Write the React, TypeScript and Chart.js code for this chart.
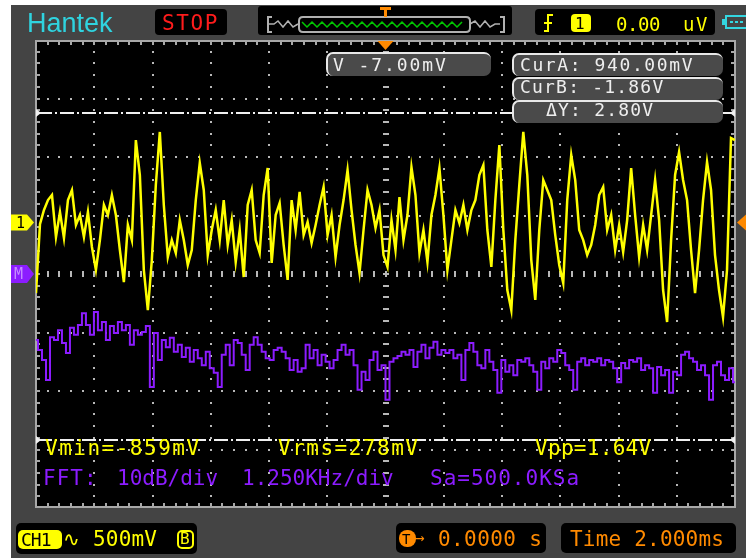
import React, { useEffect, useRef } from "react";
import { Chart, registerables } from "chart.js";
Chart.register(...registerables);

// ---- Data ----
// CH1 samples in mV, evenly spaced across the 24 ms window (2 ms/div, 12 div)
const CH1_MV = [
  -603, -13, 107, 192, 235, -124, 90, -132, 192, 278, -21, 64, -124, 90, -209, -406,
  -150, 150, 64, 235, 64, -235, -509, -21, -150, 705, 406, -406, -748, -321, 321, 774,
  150, -295, -150, -261, 21, -150, -363, -235, 192, 509, 278, -278, -64, 107, -150, 192,
  -192, 21, -338, -64, -466, 150, 278, -150, -261, 235, 466, -346, 64, 167, -192, -491,
  192, -64, 261, -107, 4, -175, -21, 150, 303, -107, 64, -295, -21, 192, 449, 107,
  -192, -432, -64, 278, 150, -47, 107, -278, -380, 21, -235, 218, -150, 64, 474, 235,
  -261, -64, -338, 64, 235, 466, 64, -406, -150, 107, -4, 150, -64, 107, 192, 406,
  491, -64, -380, 192, 662, -64, -577, -748, -150, 321, 774, 406, -321, -662, -64, 363,
  278, 192, -107, -363, -517, 192, 577, 363, -64, -150, -278, -192, -21, 235, 303, -64,
  64, -235, -21, -252, 21, 466, 64, -295, -21, -235, 64, 363, 21, -577, -850, -150,
  406, 603, 363, 192, -235, -603, -235, 192, 517, 278, -278, -577, -808, -406, 722, 705,
];
// FFT magnitude in dB, evenly spaced across 0..15 kHz (1.250 kHz/div)
const FFT_DB = [
  -11.3, -13.0, -14.7, -18.1, -10.8, -11.3, -9.6, -11.8, -13.5, -9.2, -10.4, -8.7, -6.7, -8.7, -10.4, -6.5,
  -9.6, -8.2, -11.3, -8.9, -10.1, -8.2, -9.6, -8.7, -12.1, -9.6, -10.4, -9.9, -8.9, -19.3, -10.1, -14.7,
  -11.3, -12.5, -10.9, -13.3, -12.1, -14.2, -12.6, -15.0, -13.0, -14.4, -15.6, -13.3, -16.1, -16.9, -19.3, -13.8,
  -12.1, -15.6, -11.3, -11.8, -13.8, -16.4, -12.1, -10.8, -12.1, -13.3, -14.4, -14.7, -13.0, -12.6, -13.3, -14.4,
  -16.4, -14.7, -16.7, -16.1, -12.1, -14.4, -13.0, -15.6, -13.8, -15.0, -16.1, -14.7, -13.0, -12.1, -13.8, -13.0,
  -15.6, -19.8, -16.7, -18.1, -14.7, -13.3, -16.4, -15.6, -21.5, -15.0, -14.4, -14.0, -13.3, -13.8, -13.0, -15.9,
  -13.3, -12.1, -14.4, -12.6, -11.6, -13.8, -13.0, -13.5, -13.0, -14.4, -13.8, -18.1, -13.0, -11.8, -13.3, -15.6,
  -16.1, -13.0, -15.0, -16.4, -20.3, -14.7, -16.7, -15.6, -17.3, -14.7, -15.0, -14.4, -15.6, -16.7, -19.8, -15.0,
  -16.1, -14.4, -15.0, -13.0, -13.5, -15.6, -16.4, -19.8, -15.0, -14.4, -15.6, -14.7, -15.0, -14.4, -15.6, -14.7,
  -15.0, -16.1, -18.5, -15.2, -16.1, -14.7, -15.0, -14.4, -16.4, -15.6, -16.1, -20.3, -15.9, -17.3, -16.4, -20.3,
  -16.7, -17.3, -13.8, -13.3, -14.4, -15.0, -16.4, -15.6, -17.3, -21.5, -15.6, -15.0, -17.3, -18.1, -16.1, -18.5,
];

const TIME_DIV_MS = 2;
const FFT_KHZ_DIV = 1.25;
const CH1_MV_DIV = 500;
const CH1_CENTER_MV = -440; // CH1 value on the centre graticule line
const FFT_DB_DIV = 10;
const CURSOR_A_MV = 940;
const CURSOR_B_MV = -1860;
const H_DIVS = 12;
const V_DIVS = 8;

const YELLOW = "#ffff00";
const PURPLE = "#8c1cff";
const ORANGE = "#ff8a00";
const GRAYBG = "#444444";

const MONO = "'DejaVu Sans Mono', monospace";

function T(props: {
  x: number; base: number; size: number; color: string; ls?: number; font?: string; children: React.ReactNode; asc?: number;
}) {
  const asc = props.asc ?? 0.846;
  return (
    <div
      style={{
        position: "absolute",
        left: props.x,
        top: props.base - asc * props.size,
        fontSize: props.size,
        lineHeight: props.size + "px",
        fontFamily: props.font ?? MONO,
        color: props.color,
        letterSpacing: (props.ls ?? 0) + "px",
        whiteSpace: "pre",
      }}
    >
      {props.children}
    </div>
  );
}

function Box(props: { x: number; y: number; w: number; h: number; bg: string; r?: number; style?: React.CSSProperties }) {
  return (
    <div
      style={{
        position: "absolute",
        left: props.x,
        top: props.y,
        width: props.w,
        height: props.h,
        background: props.bg,
        borderRadius: props.r ?? 4,
        boxSizing: "border-box",
        ...(props.style || {}),
      }}
    />
  );
}

function CurBox(props: { x: number; y: number; w: number; h: number }) {
  return (
    <div
      style={{
        position: "absolute",
        left: props.x,
        top: props.y,
        width: props.w,
        height: props.h,
        background: "#4a4a4a",
        borderTop: "2px solid #e8e8e8",
        borderLeft: "2px solid #e8e8e8",
        borderRadius: "7px 7px 7px 7px",
        boxSizing: "border-box",
      }}
    />
  );
}

const scopePlugin = {
  id: "scope",
  beforeDraw(chart: any) {
    const ctx = chart.ctx as CanvasRenderingContext2D;
    const a = chart.chartArea;
    ctx.save();
    ctx.fillStyle = "#ffffff";
    ctx.fillRect(0, 0, chart.width, chart.height);
    ctx.fillStyle = GRAYBG;
    ctx.fillRect(11, 5, chart.width - 11, chart.height - 6);
    ctx.fillStyle = "#000000";
    ctx.fillRect(a.left, a.top, a.right - a.left, a.bottom - a.top);

    const dx = (a.right - a.left) / H_DIVS;
    const dy = (a.bottom - a.top) / V_DIVS;
    const cx = a.left + dx * (H_DIVS / 2);
    const cy = a.top + dy * (V_DIVS / 2);
    ctx.fillStyle = "#b8b8b8";
    // dotted division lines
    for (let k = 1; k < H_DIVS; k++) {
      if (k === H_DIVS / 2) continue;
      const x = a.left + k * dx;
      for (let j = 1; j < V_DIVS * 5; j++) {
        const y = a.top + (j * dy) / 5;
        ctx.fillRect(Math.round(x) - 1, Math.round(y) - 1, 2, 2);
      }
    }
    for (let k = 1; k < V_DIVS; k++) {
      if (k === V_DIVS / 2) continue;
      const y = a.top + k * dy;
      for (let j = 1; j < H_DIVS * 5; j++) {
        const x = a.left + (j * dx) / 5;
        ctx.fillRect(Math.round(x) - 1, Math.round(y) - 1, 2, 2);
      }
    }
    // centre axes with ticks
    for (let j = 1; j < V_DIVS * 5; j++) {
      const y = a.top + (j * dy) / 5;
      ctx.fillRect(Math.round(cx) - 3, Math.round(y) - 1, 6, 2);
    }
    for (let j = 1; j < H_DIVS * 5; j++) {
      const x = a.left + (j * dx) / 5;
      ctx.fillRect(Math.round(x) - 1, Math.round(cy) - 3, 2, 6);
    }
    // border
    ctx.fillStyle = "#a8a8a8";
    ctx.fillRect(a.left - 1, a.top, a.right - a.left + 2, 2);
    ctx.fillRect(a.left - 1, a.bottom - 2, a.right - a.left + 2, 2);
    ctx.fillRect(a.left - 1, a.top, 2, a.bottom - a.top);
    ctx.fillRect(a.right - 1, a.top, 2, a.bottom - a.top);
    for (let j = 1; j < H_DIVS * 5; j++) {
      const x = Math.round(a.left + (j * dx) / 5) - 1;
      ctx.fillRect(x, a.top + 2, 2, 3);
      ctx.fillRect(x, a.bottom - 5, 2, 3);
    }
    for (let j = 1; j < V_DIVS * 5; j++) {
      const y = Math.round(a.top + (j * dy) / 5) - 1;
      ctx.fillRect(a.left + 1, y, 3, 2);
      ctx.fillRect(a.right - 4, y, 3, 2);
    }

    // ---- header: timebase indicator ----
    ctx.fillStyle = "#000";
    roundRect(ctx, 258, 6, 254, 29, 3);
    ctx.fill();
    ctx.strokeStyle = "#b0b0b0";
    ctx.lineWidth = 2;
    ctx.beginPath();
    ctx.moveTo(272, 17); ctx.lineTo(268, 17); ctx.lineTo(268, 32); ctx.lineTo(272, 32);
    ctx.moveTo(500, 17); ctx.lineTo(504, 17); ctx.lineTo(504, 32); ctx.lineTo(500, 32);
    ctx.stroke();
    ctx.lineWidth = 1.5;
    ctx.beginPath();
    ctx.moveTo(268, 24); ctx.lineTo(274, 24);
    ctx.lineTo(278, 21); ctx.lineTo(283, 27); ctx.lineTo(288, 21); ctx.lineTo(293, 27); ctx.lineTo(298, 24);
    ctx.moveTo(470, 24); ctx.lineTo(475, 21); ctx.lineTo(480, 27); ctx.lineTo(485, 21); ctx.lineTo(490, 27); ctx.lineTo(495, 24); ctx.lineTo(500, 24);
    ctx.stroke();
    ctx.lineWidth = 2;
    roundRect(ctx, 299, 17, 171, 15, 4);
    ctx.stroke();
    ctx.strokeStyle = "#00c800";
    ctx.lineWidth = 1.5;
    ctx.beginPath();
    for (let x = 302, i = 0; x <= 466; x += 5, i++) {
      const y = i % 2 === 0 ? 22 : 27;
      if (i === 0) ctx.moveTo(x, y); else ctx.lineTo(x, y);
    }
    ctx.stroke();
    ctx.fillStyle = ORANGE;
    ctx.fillRect(380, 7, 11, 3);
    ctx.fillRect(384, 7, 3, 10);

    // ---- trigger box ----
    ctx.fillStyle = "#000";
    roundRect(ctx, 535, 9, 180, 26, 4);
    ctx.fill();
    ctx.strokeStyle = YELLOW;
    ctx.lineWidth = 2;
    ctx.beginPath();
    ctx.moveTo(544, 31); ctx.lineTo(548, 31); ctx.lineTo(548, 15); ctx.lineTo(553, 15);
    ctx.moveTo(544, 23); ctx.lineTo(552, 23);
    ctx.stroke();
    ctx.fillStyle = YELLOW;
    roundRect(ctx, 571, 14, 20, 18, 4);
    ctx.fill();
    // battery
    ctx.strokeStyle = "#33d6e0";
    ctx.lineWidth = 2;
    ctx.strokeRect(726, 16, 22, 12);
    ctx.fillStyle = "#33d6e0";
    ctx.fillRect(722, 19, 4, 6);
    for (let i = 0; i < 3; i++) ctx.fillRect(730 + i * 5, 21, 3, 2);

    // ---- side markers ----
    const y0 = chart.scales.y.getPixelForValue(0);
    ctx.fillStyle = YELLOW;
    ctx.beginPath();
    ctx.moveTo(11, y0 - 8); ctx.lineTo(27, y0 - 8); ctx.lineTo(34, y0); ctx.lineTo(27, y0 + 8); ctx.lineTo(11, y0 + 8);
    ctx.closePath(); ctx.fill();
    const yM = chart.scales.yf.getPixelForValue(0);
    ctx.fillStyle = PURPLE;
    ctx.beginPath();
    ctx.moveTo(11, yM - 9); ctx.lineTo(27, yM - 9); ctx.lineTo(34, yM); ctx.lineTo(27, yM + 9); ctx.lineTo(11, yM + 9);
    ctx.closePath(); ctx.fill();
    // trigger level marker on right
    ctx.fillStyle = ORANGE;
    ctx.beginPath();
    ctx.moveTo(737, y0); ctx.lineTo(746, y0 - 8); ctx.lineTo(746, y0 + 8);
    ctx.closePath(); ctx.fill();
    ctx.restore();
  },
  afterDatasetsDraw(chart: any) {
    const ctx = chart.ctx as CanvasRenderingContext2D;
    const a = chart.chartArea;
    ctx.save();
    ctx.strokeStyle = "#f0f0f0";
    ctx.lineWidth = 2;
    ctx.setLineDash([14, 3, 2, 3]);
    for (const v of [CURSOR_A_MV, CURSOR_B_MV]) {
      const y = Math.round(chart.scales.y.getPixelForValue(v));
      ctx.beginPath();
      ctx.moveTo(a.left + 2, y);
      ctx.lineTo(a.right - 2, y);
      ctx.stroke();
      ctx.fillStyle = "#f0f0f0";
      ctx.beginPath();
      ctx.moveTo(a.left, y - 4); ctx.lineTo(a.left + 5, y); ctx.lineTo(a.left, y + 4);
      ctx.closePath(); ctx.fill();
      ctx.beginPath();
      ctx.moveTo(a.right, y - 4); ctx.lineTo(a.right - 5, y); ctx.lineTo(a.right, y + 4);
      ctx.closePath(); ctx.fill();
    }
    ctx.setLineDash([]);
    // trigger position marker
    const xT = chart.scales.x.getPixelForValue(0);
    ctx.fillStyle = ORANGE;
    ctx.beginPath();
    ctx.moveTo(xT - 8, a.top + 1); ctx.lineTo(xT + 8, a.top + 1); ctx.lineTo(xT, a.top + 10);
    ctx.closePath(); ctx.fill();
    ctx.restore();
  },
};

function roundRect(ctx: CanvasRenderingContext2D, x: number, y: number, w: number, h: number, r: number) {
  ctx.beginPath();
  ctx.moveTo(x + r, y);
  ctx.lineTo(x + w - r, y);
  ctx.quadraticCurveTo(x + w, y, x + w, y + r);
  ctx.lineTo(x + w, y + h - r);
  ctx.quadraticCurveTo(x + w, y + h, x + w - r, y + h);
  ctx.lineTo(x + r, y + h);
  ctx.quadraticCurveTo(x, y + h, x, y + h - r);
  ctx.lineTo(x, y + r);
  ctx.quadraticCurveTo(x, y, x + r, y);
  ctx.closePath();
}

export default function App() {
  const ref = useRef<HTMLCanvasElement | null>(null);
  useEffect(() => {
    document.body.style.margin = "0";
    const halfT = (H_DIVS / 2) * TIME_DIV_MS;
    const ch1 = CH1_MV.map((v, i) => ({ x: -halfT + (i * 2 * halfT) / (CH1_MV.length - 1), y: v }));
    const fSpan = H_DIVS * FFT_KHZ_DIV;
    const fft = FFT_DB.map((v, i) => ({ x: (i * fSpan) / (FFT_DB.length - 1), y: v }));
    const chart = new Chart(ref.current as HTMLCanvasElement, {
      type: "line",
      data: {
        datasets: [
          { data: fft, xAxisID: "xf", yAxisID: "yf", borderColor: PURPLE, borderWidth: 2, pointRadius: 0, tension: 0, stepped: "middle" },
          { data: ch1, xAxisID: "x", yAxisID: "y", borderColor: YELLOW, borderWidth: 2.5, pointRadius: 0, tension: 0 },
        ],
      },
      options: {
        animation: false,
        responsive: false,
        events: [],
        layout: { padding: { left: 36, top: 40, right: 11, bottom: 51 } },
        plugins: { legend: { display: false }, tooltip: { enabled: false } },
        scales: {
          x: { type: "linear", display: false, min: -halfT, max: halfT },
          xf: { type: "linear", display: false, min: 0, max: fSpan },
          y: {
            type: "linear", display: false,
            min: CH1_CENTER_MV - (V_DIVS / 2) * CH1_MV_DIV,
            max: CH1_CENTER_MV + (V_DIVS / 2) * CH1_MV_DIV,
          },
          yf: { type: "linear", display: false, min: -(V_DIVS / 2) * FFT_DB_DIV, max: (V_DIVS / 2) * FFT_DB_DIV },
        },
      },
      plugins: [scopePlugin],
    });
    return () => chart.destroy();
  }, []);

  return (
    <div style={{ position: "relative", width: 746, height: 559, overflow: "hidden" }}>
      <canvas ref={ref} width={746} height={559} style={{ position: "absolute", left: 0, top: 0, width: 746, height: 559 }} />
      {/* header */}
      <T x={27} base={33} size={27} color="#2fd3df" font="'Liberation Sans', Arial, sans-serif" asc={0.8465}>Hantek</T>
      <Box x={155} y={9} w={72} h={26} bg="#000" r={4} />
      <T x={162} base={31} size={21} color="#ff1c1c" ls={1.6}>STOP</T>
      <T x={575} base={30} size={16} color="#000">1</T>
      <T x={616} base={31} size={19} color={YELLOW} ls={-0.4}>0.00</T>
      <T x={683} base={31} size={19} color={YELLOW} ls={1.5}>uV</T>

      {/* cursor readouts */}
      <CurBox x={326} y={52} w={165} h={24} />
      <T x={333} base={71} size={18} color="#eeeeee" ls={1.9}>V -7.00mV</T>
      <CurBox x={512} y={53} w={211} h={23} />
      <T x={520} base={71} size={18} color="#eeeeee" ls={1.6}>CurA: 940.00mV</T>
      <CurBox x={512} y={77} w={211} h={23} />
      <T x={520} base={93} size={18} color="#eeeeee" ls={1.2}>CurB: -1.86V</T>
      <CurBox x={512} y={100} w={211} h={23} />
      <T x={546} base={116} size={18} color="#eeeeee" ls={1.2}>ΔY: 2.80V</T>

      {/* measurements */}
      <T x={45} base={456} size={21} color={YELLOW} ls={1.5}>Vmin=-859mV</T>
      <T x={278} base={456} size={21} color={YELLOW} ls={1.5}>Vrms=278mV</T>
      <T x={535} base={456} size={21} color={YELLOW} ls={0.3}>Vpp=1.64V</T>
      <T x={43} base={486} size={21} color={PURPLE} ls={1}>FFT:</T>
      <T x={117} base={486} size={21} color={PURPLE} ls={0}>10dB/div</T>
      <T x={242} base={486} size={21} color={PURPLE} ls={0}>1.250KHz/div</T>
      <T x={430} base={486} size={21} color={PURPLE} ls={1}>Sa=500.0KSa</T>

      {/* left markers text */}
      <T x={16} base={229} size={15} color="#000">1</T>
      <T x={14} base={280} size={15} color="#c58cff">M</T>

      {/* footer */}
      <Box x={16} y={523} w={181} h={31} bg="#000" r={5} />
      <Box x={18} y={530} w={44} h={19} bg={YELLOW} r={5} />
      <T x={21} base={546} size={18} color="#000" ls={-1}>CH1</T>
      <T x={63} base={546} size={20} color={YELLOW}>∿</T>
      <T x={93} base={547} size={21} color={YELLOW} ls={0.2}>500mV</T>
      <Box x={177} y={530} w={17} h={19} bg="transparent" r={5} style={{ border: "2px solid " + YELLOW }} />
      <T x={180} base={545} size={16} color={YELLOW}>B</T>

      <Box x={396} y={523} w={150} h={30} bg="#000" r={5} />
      <Box x={399} y={530} w={17} h={17} bg={ORANGE} r={8} />
      <T x={402} base={544} size={14} color="#000">T</T>
      <T x={415} base={544} size={16} color={ORANGE}>→</T>
      <T x={438} base={547} size={21} color={ORANGE} ls={0.4}>0.0000 s</T>

      <Box x={561} y={523} w={175} h={30} bg="#000" r={5} />
      <T x={570} base={547} size={21} color={ORANGE} ls={0.2}>Time 2.000ms</T>
    </div>
  );
}
